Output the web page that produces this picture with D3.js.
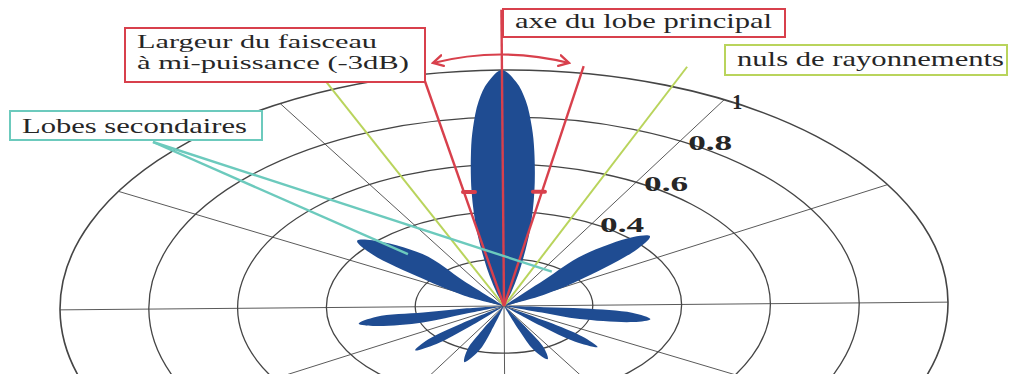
<!DOCTYPE html>
<html>
<head>
<meta charset="utf-8">
<script src="https://cdn.jsdelivr.net/npm/d3@7"></script>
<style>
  body { margin: 0; background: #fff; }
  svg { display: block; }
  text { font-family: 'Liberation Serif', 'DejaVu Serif', 'Times New Roman', serif; fill: #262626; }
</style>
</head>
<body>
<svg width="1009" height="374"></svg>
<script>
// polar grid
const ringValues = [0.2, 0.4, 0.6, 0.8, 1];
const ringLabelValues = [0.4, 0.6, 0.8, 1];
const ringLabels = ['0.4', '0.6', '0.8', '1'];
const spokeAngles = [0, 30, 60, 90, 120, 150, 180, 210, 240, 270, 300, 330];

// radiation pattern: [angle from main axis (deg, clockwise), relative field]
// every lobe starts and ends at the origin
const mainLobe = [
  [-16, 0.06], [-14, 0.13], [-12.5, 0.2], [-10.6, 0.325], [-8.3, 0.49], [-6.2, 0.66], [-5, 0.76],
  [-3.5, 0.87], [-1.9, 0.95], [0, 1], [1.9, 0.95], [3.5, 0.87], [5, 0.76],
  [6.2, 0.66], [8.3, 0.49], [10.6, 0.325], [12.5, 0.2], [14, 0.13], [16, 0.06]
];
const upperSideLobes = [
  [[-40, 0.14], [-39.3, 0.288], [-46.2, 0.409], [-49.3, 0.434], [-52.9, 0.37], [-57, 0.217], [-63, 0.1]],
  [[40, 0.14], [40.2, 0.28], [45.5, 0.41], [48.5, 0.44], [52, 0.38], [58, 0.2], [63, 0.1]]
];
const horizontalSideLobes = [
  [[-96, 0.09], [-97.7, 0.184], [-98, 0.29], [-102, 0.335], [-105.5, 0.3], [-110, 0.195], [-110, 0.09]],
  [[94, 0.09], [94.2, 0.18], [96.5, 0.29], [100.5, 0.335], [104, 0.3], [108.9, 0.18], [109, 0.09]]
];
const lowerSideLobes = [
  [[-127, 0.12], [-129, 0.22], [-132.7, 0.273], [-136, 0.22], [-138, 0.12]],
  [[-154, 0.11], [-155.5, 0.2], [-159.2, 0.253], [-163, 0.2], [-164.5, 0.11]],
  [[125, 0.12], [127, 0.22], [130.3, 0.275], [134, 0.22], [136, 0.12]],
  [[152, 0.11], [153.5, 0.2], [156.9, 0.247], [160.5, 0.2], [162, 0.11]]
];

// annotation rays
const halfPowerAngles = [-10.3, 10.3];
const halfPowerLengths = [0.973, 1.03];
const halfPowerMarks = [[-9, 0.49], [9.5, 0.49]];
const nullAngles = [-22.5, 22.5];
const nullLengths = [1.06, 1.09];
const sideLobeTargets = [[-44, 0.31], [37, 0.18]];

const svg = d3.select('svg');
const width = +svg.attr('width');
const height = +svg.attr('height');

// the chart is a squashed, slightly tilted polar plot
const cx = 504, cy = 306, rx = 444, ry = 236, tilt = -0.5;
const squash = ry / rx;

const r = d3.scaleLinear().domain([0, 1]).range([0, rx]);
const rad = d => d * Math.PI / 180;

const project = (deg, v) => {
  const x0 = r(v) * Math.sin(rad(deg));
  const y0 = -r(v) * Math.cos(rad(deg)) * squash;
  const a = rad(tilt);
  return [cx + x0 * Math.cos(a) - y0 * Math.sin(a), cy + x0 * Math.sin(a) + y0 * Math.cos(a)];
};

const red = '#d8404c', green = '#b9d45c', teal = '#6ccabd', blue = '#1f4c92';

const defs = svg.append('defs');
defs.append('marker')
  .attr('id', 'arrow')
  .attr('viewBox', '0 0 12 12')
  .attr('refX', 10).attr('refY', 6)
  .attr('markerWidth', 13).attr('markerHeight', 13)
  .attr('markerUnits', 'userSpaceOnUse')
  .attr('orient', 'auto-start-reverse')
  .append('path')
    .attr('d', 'M1,1 L10,6 L1,11')
    .attr('fill', 'none')
    .attr('stroke', red)
    .attr('stroke-width', 2.2)
    .attr('stroke-linecap', 'round');

const g = svg.append('g')
  .attr('transform', `translate(${cx},${cy}) rotate(${tilt}) scale(1,${squash})`);

// grid
g.selectAll('.spoke').data(spokeAngles)
  .enter().append('line')
    .attr('class', 'spoke')
    .attr('x1', 0).attr('y1', 0)
    .attr('x2', d => r(1) * Math.sin(rad(d)))
    .attr('y2', d => -r(1) * Math.cos(rad(d)))
    .attr('stroke', '#5a5a5a')
    .attr('stroke-width', 1)
    .attr('vector-effect', 'non-scaling-stroke');

g.selectAll('.ring').data(ringValues)
  .enter().append('circle')
    .attr('class', 'ring')
    .attr('r', d => r(d))
    .attr('fill', 'none')
    .attr('stroke', '#454545')
    .attr('stroke-width', d => d === 1 ? 1.6 : 1.3)
    .attr('vector-effect', 'non-scaling-stroke');

// lobes
const lobeLine = d3.lineRadial()
  .angle(d => rad(d[0]))
  .radius(d => r(d[1]))
  .curve(d3.curveCatmullRom.alpha(0.5));

const lobes = [mainLobe, ...upperSideLobes, ...horizontalSideLobes, ...lowerSideLobes];

g.selectAll('.lobe').data(lobes)
  .enter().append('path')
    .attr('class', 'lobe')
    .attr('d', d => lobeLine([[d[0][0], 0], ...d, [d[d.length - 1][0], 0]]) + 'Z')
    .attr('fill', blue);

// null and half-power rays
const ray = (angle, len, color, w) => {
  const p0 = project(angle, 0), p1 = project(angle, len);
  svg.append('line')
    .attr('x1', p0[0]).attr('y1', p0[1])
    .attr('x2', p1[0]).attr('y2', p1[1])
    .attr('stroke', color)
    .attr('stroke-width', w);
};
nullAngles.forEach((a, i) => ray(a, nullLengths[i], green, 2));
halfPowerAngles.forEach((a, i) => ray(a, halfPowerLengths[i], red, 2.4));
ray(0, 1.255, red, 2.4);

svg.selectAll('.mark').data(halfPowerMarks)
  .enter().append('line')
    .attr('class', 'mark')
    .attr('x1', d => project(d[0], d[1])[0] - 6)
    .attr('x2', d => project(d[0], d[1])[0] + 6)
    .attr('y1', d => project(d[0], d[1])[1])
    .attr('y2', d => project(d[0], d[1])[1])
    .attr('stroke', red)
    .attr('stroke-width', 4)
    .attr('stroke-linecap', 'round');

// beamwidth double arrow
svg.append('path')
  .attr('d', 'M433,63 Q501,46 569,63')
  .attr('fill', 'none')
  .attr('stroke', red)
  .attr('stroke-width', 2.2)
  .attr('marker-start', 'url(#arrow)')
  .attr('marker-end', 'url(#arrow)');

// leader lines to the side lobes
svg.selectAll('.leader').data(sideLobeTargets)
  .enter().append('line')
    .attr('class', 'leader')
    .attr('x1', 153).attr('y1', 142)
    .attr('x2', d => project(d[0], d[1])[0])
    .attr('y2', d => project(d[0], d[1])[1])
    .attr('stroke', teal)
    .attr('stroke-width', 2.4);

// label boxes
const boxes = [
  {x: 125, y: 28, w: 300, h: 54, color: red, size: 18.8,
    lines: [{t: 'Largeur du faisceau', y: 48, len: 240}, {t: 'à mi-puissance (-3dB)', y: 69, len: 272}]},
  {x: 503, y: 9, w: 282, h: 28, color: red, size: 21,
    lines: [{t: 'axe du lobe principal', y: 28, len: 257}]},
  {x: 725, y: 45, w: 282, h: 30, color: green, size: 21,
    lines: [{t: 'nuls de rayonnements', y: 66, len: 267}]},
  {x: 10, y: 111, w: 252, h: 29, color: teal, size: 21,
    lines: [{t: 'Lobes secondaires', y: 133, len: 225}]}
];

boxes.forEach(b => {
  svg.append('rect')
    .attr('x', b.x).attr('y', b.y)
    .attr('width', b.w).attr('height', b.h)
    .attr('fill', '#fff')
    .attr('stroke', b.color)
    .attr('stroke-width', 2);
  b.lines.forEach(l => {
    svg.append('text')
      .attr('x', b.x + 12)
      .attr('y', l.y)
      .attr('font-size', b.size)
      .attr('textLength', l.len)
      .attr('lengthAdjust', 'spacingAndGlyphs')
      .text(l.t);
  });
});

// ring values along the 30 degree spoke
svg.selectAll('.ring-label').data(ringLabelValues)
  .enter().append('text')
    .attr('class', 'ring-label')
    .attr('x', d => project(30, d)[0] + 8)
    .attr('y', d => project(30, d)[1] + 9)
    .attr('font-size', 20)
    .attr('font-weight', 'bold')
    .attr('textLength', (d, i) => ringLabels[i].length > 1 ? 44 : null)
    .attr('lengthAdjust', 'spacingAndGlyphs')
    .text((d, i) => ringLabels[i]);
</script>
</body>
</html>
